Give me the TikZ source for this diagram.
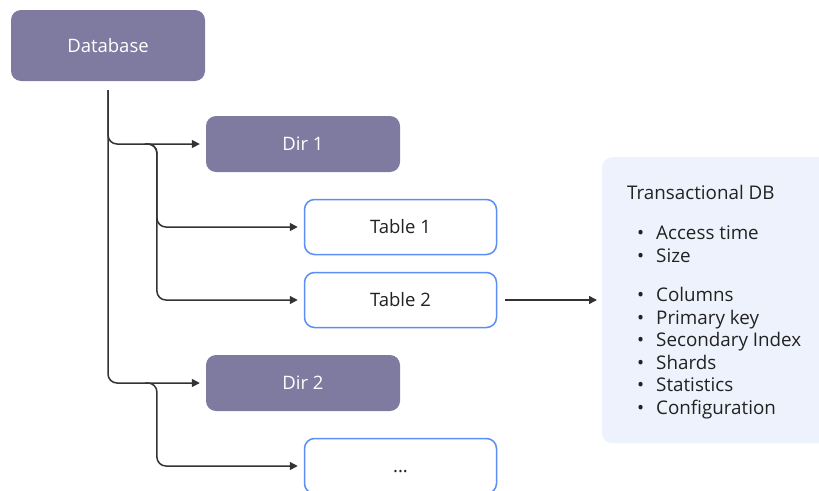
\documentclass[tikz,border=0pt]{standalone}
\usepackage{fontspec}
\setmainfont{Open Sans}
\usetikzlibrary{arrows.meta,positioning,calc}
\definecolor{dirfill}{RGB}{127,122,160}
\definecolor{tableline}{RGB}{91,143,245}
\definecolor{panelfill}{RGB}{238,242,252}
\definecolor{linkcol}{RGB}{51,51,51}
\definecolor{textcol}{RGB}{34,34,34}

\begin{document}
\begin{tikzpicture}[x=1pt,y=-1pt]
\tikzset{dirbox/.style={fill=dirfill,rounded corners=10pt,minimum width=194pt,minimum height=56pt,text=white,font=\fontsize{18.5}{22}\selectfont}}
\tikzset{tablebox/.style={draw=tableline,line width=1.5pt,fill=white,rounded corners=10pt,minimum width=192pt,minimum height=55pt,text=textcol,font=\fontsize{18.5}{22}\selectfont}}
\tikzset{link/.style={draw=linkcol,line width=1.5pt,rounded corners=9pt,-{Triangle[length=8pt,width=8pt]},shorten >=6pt}}
\tikzset{prop/.style={anchor=west,inner sep=0pt,text height=13pt,text depth=4pt,text=textcol,font=\fontsize{18.8}{22}\selectfont}}

\useasboundingbox (0,0) rectangle (819,490);

% tree
\node[dirbox,minimum height=71pt] (db) at (108,45.5) {Database};
\node[dirbox] (dir1) at (303,144) {Dir 1};
\node[tablebox] (t1) at (400.5,227) {Table 1};
\node[tablebox] (t2) at (400.5,300) {Table 2};
\node[dirbox] (dir2) at (303,383) {Dir 2};
\node[tablebox] (more) at (400.5,466) {\smash{\raisebox{-6pt}{...}}};

% info panel
\node[fill=panelfill,rounded corners=10pt,anchor=north west,minimum width=240pt,minimum height=286pt] (info) at (602,157) {};
\node[prop] (title) at (627,195) {Transactional DB};
\foreach \txt [count=\i] in {Access time,Size}
  \node[prop] (a\i) at (637,{235+22.5*(\i-1)}) {\makebox[19pt][l]{•}\txt};
\foreach \txt [count=\i] in {Columns,Primary key,Secondary Index,Shards,Statistics,Configuration}
  \node[prop] (b\i) at (637,{297+22.6*(\i-1)}) {\makebox[19pt][l]{•}\txt};

% connectors
\coordinate (top) at ([yshift=-9pt]db.south);
\coordinate (s1) at ($(top |- dir1.west)!0.5!(dir1.west)$);
\coordinate (s2) at ($(top |- dir2.west)!0.5!(dir2.west)$);
\draw[link] (top) |- (dir1.west);
\draw[link] (top) |- (dir2.west);
\draw[link] ([xshift=-12pt]s1) -| (s1 |- t1.west) -- (t1.west);
\draw[link] ([xshift=-12pt]s1) -| (s1 |- t2.west) -- (t2.west);
\draw[link] ([xshift=-12pt]s2) -| (s2 |- more.west) -- (more.west);
\draw[link,shorten >=5pt] ([xshift=8pt]t2.east) -- (info.west |- t2.east);
\end{tikzpicture}
\end{document}
